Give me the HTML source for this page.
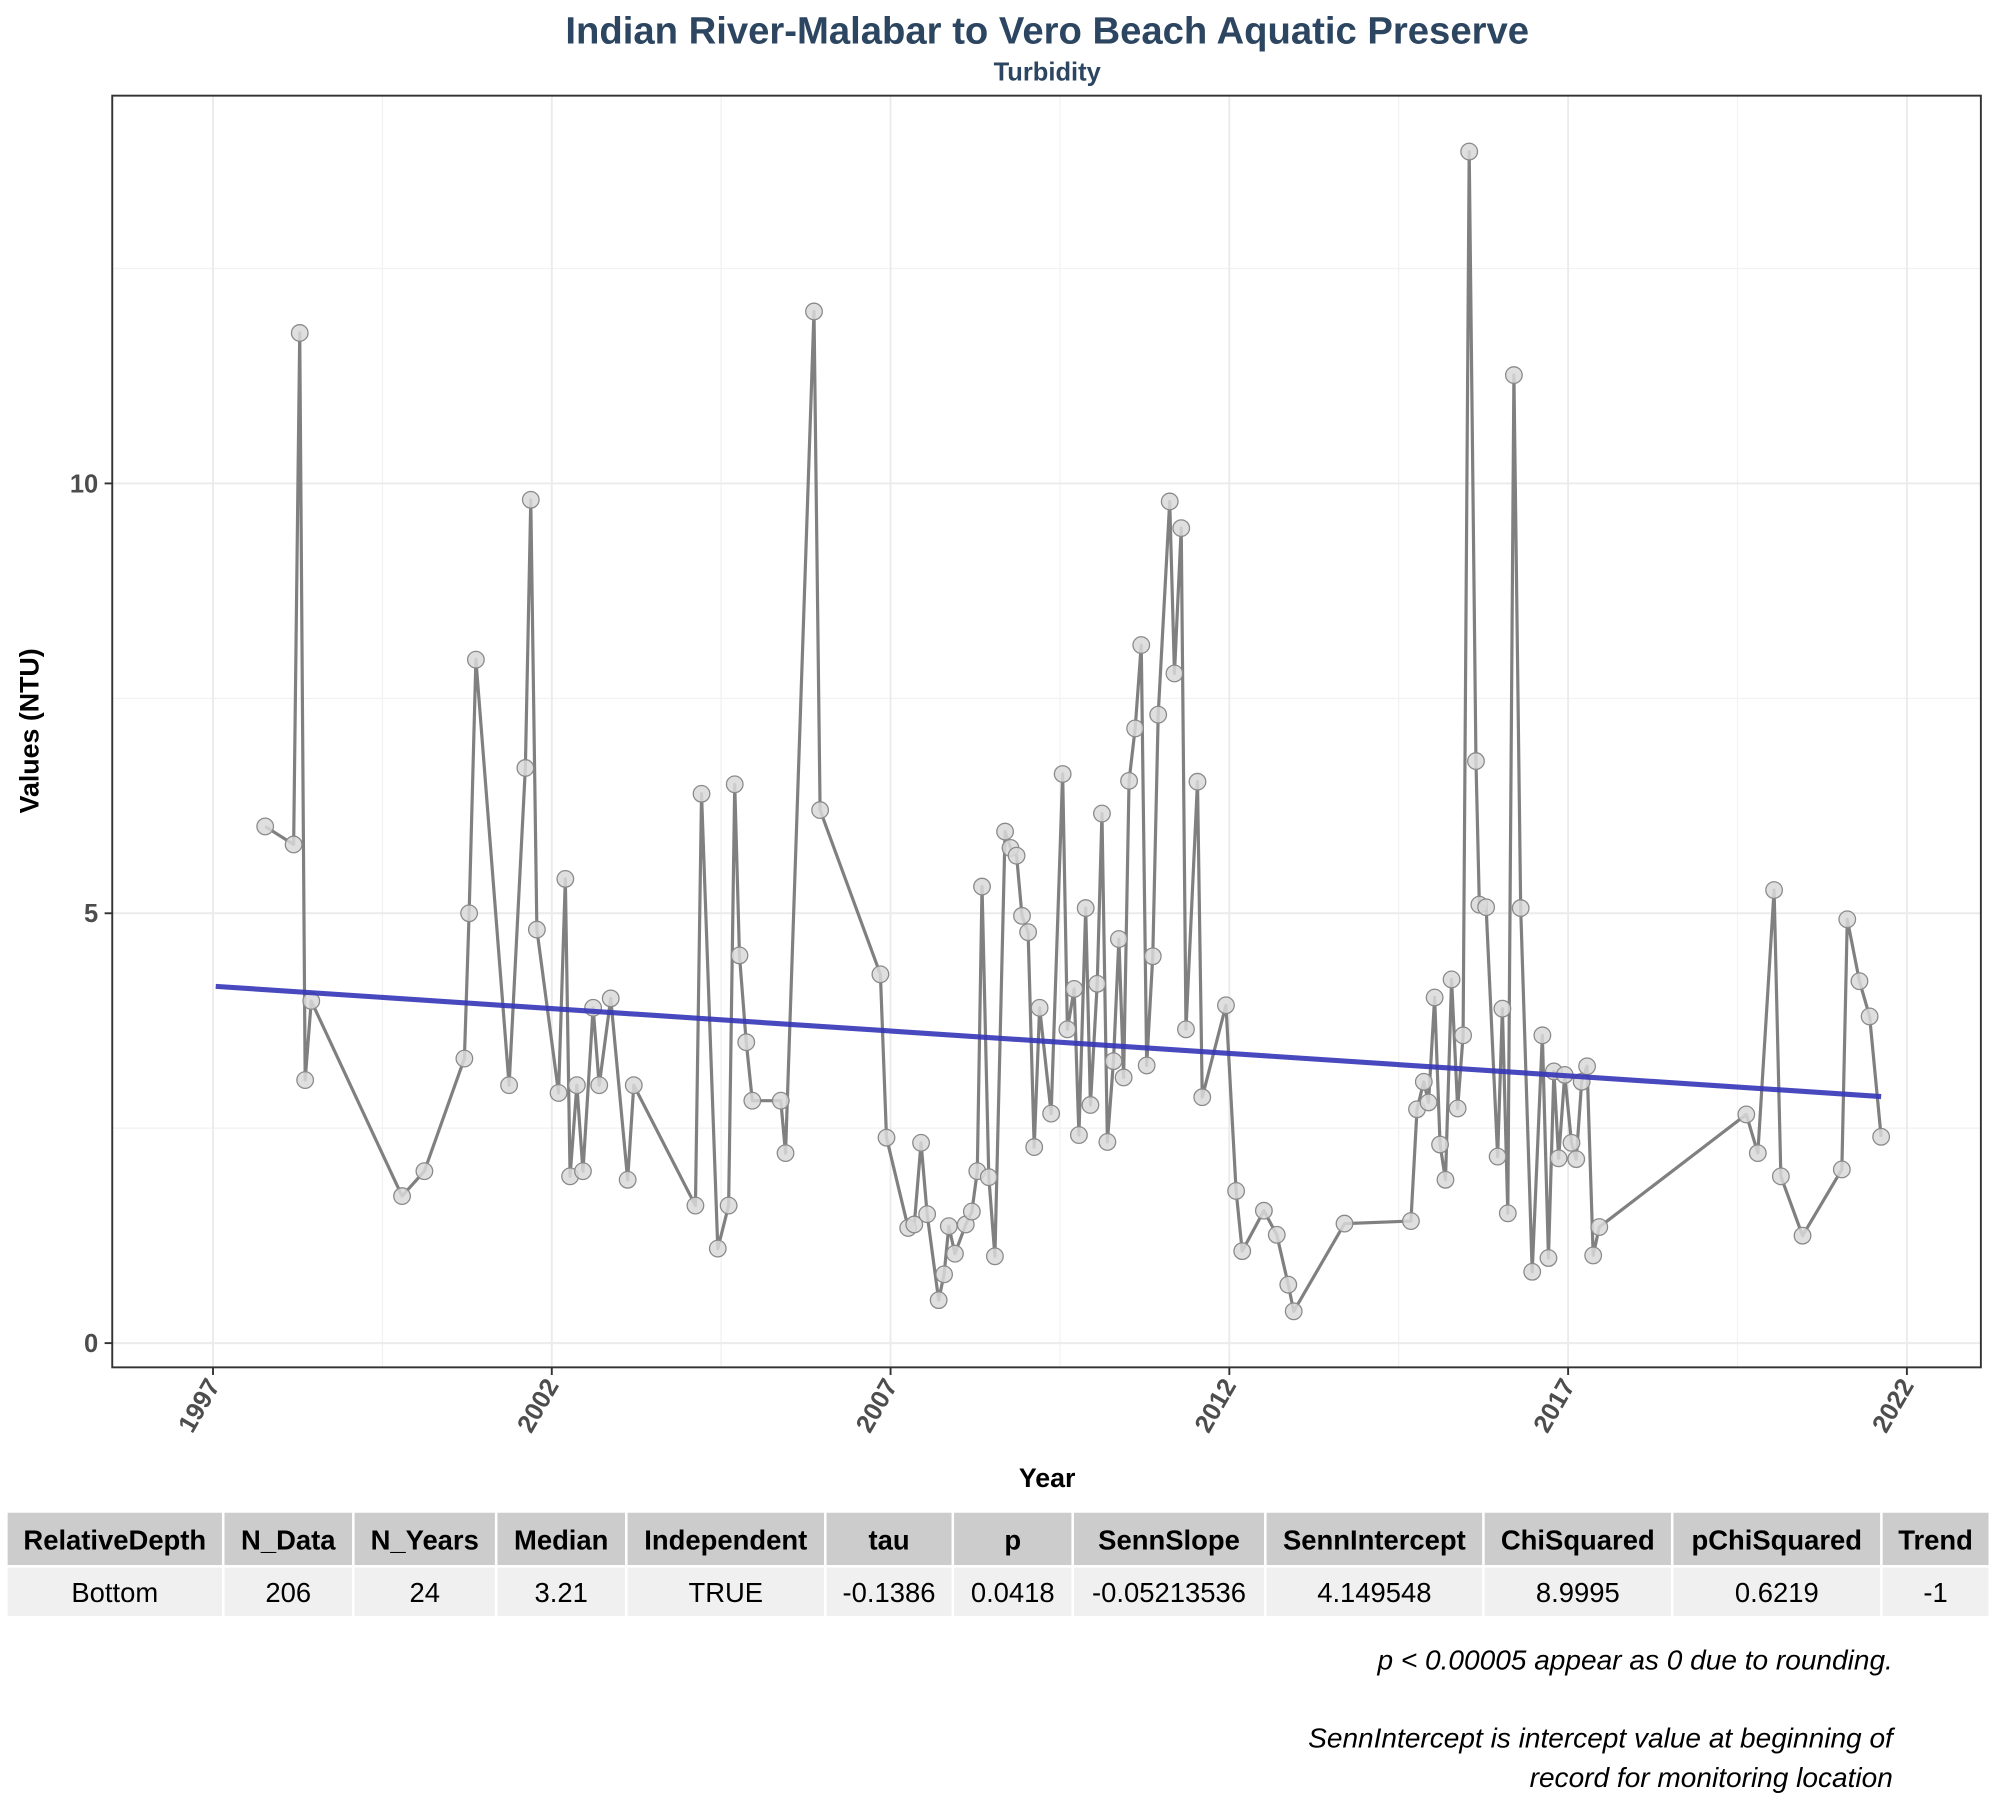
<!DOCTYPE html>
<html><head><meta charset="utf-8"><style>
html,body{margin:0;padding:0;background:#fff;}
svg{display:block;font-family:"Liberation Sans",Arial,sans-serif;}
</style></head><body>
<svg id="chart" width="2000" height="1800" viewBox="0 0 1568 1411.2" xmlns="http://www.w3.org/2000/svg">
<text x="821" y="34" text-anchor="middle" font-size="30" font-weight="bold" fill="#2c4560">Indian River-Malabar to Vero Beach Aquatic Preserve</text>
<text x="821" y="63" text-anchor="middle" font-size="20" font-weight="bold" fill="#2c4560">Turbidity</text>
<rect x="88" y="75" width="1465" height="997" fill="#fff"/>
<g id="grid"></g>
<g id="series"></g>
<g id="points"></g>
<g id="trend"></g>
<rect x="88" y="75" width="1465" height="997" fill="none" stroke="#333" stroke-width="1.5"/>
<g id="axes"></g>
<text transform="translate(30,573) rotate(-90)" text-anchor="middle" font-size="21" font-weight="bold" fill="#000">Values (NTU)</text>
<text x="821" y="1166" text-anchor="middle" font-size="21" font-weight="bold" fill="#000">Year</text>
<g id="table"></g>
<g font-size="22" font-style="italic" fill="#000" text-anchor="end">
<text x="1484" y="1309">p &lt; 0.00005 appear as 0 due to rounding.</text>
<text x="1484" y="1370">SennIntercept is intercept value at beginning of</text>
<text x="1484" y="1401">record for monitoring location</text>
</g>
</svg>
<script>
const years=[1997.77,1998.19,1998.28,1998.36,1998.45,1999.79,2000.12,2000.71,2000.78,2000.88,2001.37,2001.61,2001.69,2001.78,2002.10,2002.20,2002.27,2002.37,2002.46,2002.61,2002.70,2002.87,2003.12,2003.21,2004.12,2004.21,2004.45,2004.61,2004.70,2004.77,2004.87,2004.96,2005.38,2005.45,2005.87,2005.96,2006.85,2006.94,2007.26,2007.35,2007.45,2007.54,2007.71,2007.79,2007.86,2007.95,2008.11,2008.20,2008.28,2008.35,2008.45,2008.54,2008.69,2008.77,2008.86,2008.94,2009.03,2009.12,2009.20,2009.37,2009.54,2009.61,2009.71,2009.78,2009.88,2009.95,2010.05,2010.12,2010.20,2010.29,2010.37,2010.44,2010.52,2010.61,2010.70,2010.78,2010.87,2010.95,2011.12,2011.19,2011.29,2011.36,2011.53,2011.60,2011.95,2012.10,2012.19,2012.51,2012.70,2012.87,2012.95,2013.70,2014.68,2014.77,2014.87,2014.94,2015.03,2015.11,2015.19,2015.28,2015.37,2015.45,2015.54,2015.64,2015.69,2015.79,2015.96,2016.03,2016.11,2016.20,2016.30,2016.47,2016.62,2016.71,2016.79,2016.86,2016.95,2017.05,2017.12,2017.20,2017.28,2017.37,2017.46,2019.63,2019.80,2020.04,2020.14,2020.46,2021.04,2021.12,2021.30,2021.45,2021.62];
const values=[6.01,5.80,11.75,3.06,3.98,1.71,2.00,3.31,5.00,7.95,3.00,6.69,9.81,4.81,2.91,5.40,1.94,3.00,2.00,3.90,3.00,4.01,1.90,3.00,1.60,6.39,1.10,1.60,6.50,4.51,3.50,2.82,2.82,2.21,12.0,6.20,4.29,2.39,1.34,1.38,2.33,1.50,0.50,0.80,1.36,1.04,1.38,1.53,2.00,5.31,1.93,1.01,5.95,5.76,5.67,4.97,4.78,2.28,3.90,2.67,6.62,3.65,4.12,2.42,5.06,2.77,4.18,6.16,2.34,3.28,4.70,3.09,6.54,7.15,8.12,3.23,4.50,7.31,9.79,7.79,9.48,3.65,6.53,2.86,3.93,1.77,1.07,1.54,1.26,0.68,0.37,1.39,1.42,2.72,3.04,2.80,4.02,2.31,1.90,4.23,2.73,3.58,13.86,6.77,5.10,5.07,2.17,3.89,1.51,11.26,5.06,0.83,3.58,0.99,3.16,2.15,3.12,2.33,2.14,3.04,3.22,1.02,1.35,2.66,2.21,5.27,1.94,1.25,2.02,4.93,4.21,3.80,2.40];
const trendYears=[1997.04,2021.62];
const sennSlope=-0.05213536;
const sennIntercept=4.149548;
const yTicks=[0,5,10];
const yMinor=[2.5,7.5,12.5];
const xTicks=[1997,2002,2007,2012,2017,2022];
const xMinor=[1999.5,2004.5,2009.5,2014.5,2019.5];
const tableHeaders=["RelativeDepth","N_Data","N_Years","Median","Independent","tau","p","SennSlope","SennIntercept","ChiSquared","pChiSquared","Trend"];
const tableRow=["Bottom","206","24","3.21","TRUE","-0.1386","0.0418","-0.05213536","4.149548","8.9995","0.6219","-1"];

const NS="http://www.w3.org/2000/svg";
const X=y=>167+(y-1997)*53.12;
const Y=v=>1053-v*67.4;
function mk(tag,attrs,parent){const e=document.createElementNS(NS,tag);for(const k in attrs)e.setAttribute(k,attrs[k]);parent.appendChild(e);return e;}
const grid=document.getElementById('grid');
yMinor.forEach(v=>{const l=mk('line',{x1:88,x2:1553,y1:Y(v),y2:Y(v),stroke:'#f2f2f2','stroke-width':1},grid);

});
xMinor.forEach(v=>{const l=mk('line',{x1:X(v),x2:X(v),y1:75,y2:1072,stroke:'#f2f2f2','stroke-width':1},grid);

});
yTicks.forEach(v=>{const l=mk('line',{x1:88,x2:1553,y1:Y(v),y2:Y(v),stroke:'#ebebeb','stroke-width':1.5},grid);

});
xTicks.forEach(v=>{const l=mk('line',{x1:X(v),x2:X(v),y1:75,y2:1072,stroke:'#ebebeb','stroke-width':1.5},grid);

});
const ser=document.getElementById('series');
const pl=mk('polyline',{points:years.map((y,i)=>X(y)+','+Y(values[i])).join(' '),fill:'none',stroke:'#808080','stroke-width':2.5,'stroke-linejoin':'round'},ser);


const pts=document.getElementById('points');
years.forEach((y,i)=>{const c=mk('circle',{cx:X(y),cy:Y(values[i]),r:6.5,fill:'#d9d9d9',stroke:'#8a8a8a','stroke-width':1,'fill-opacity':0.85},pts);

});
const tr=document.getElementById('trend');
const tv=trendYears.map(y=>sennIntercept+sennSlope*(y-trendYears[0]));
const tl=mk('line',{x1:X(trendYears[0]),y1:Y(tv[0]),x2:X(trendYears[1]),y2:Y(tv[1]),stroke:'#3535b8','stroke-width':4,'stroke-opacity':0.9},tr);


const ax=document.getElementById('axes');
yTicks.forEach(v=>{const t=mk('line',{x1:82,x2:88,y1:Y(v),y2:Y(v),stroke:'#333','stroke-width':1.5},ax);


const tx=mk('text',{x:77,y:Y(v)+7,'text-anchor':'end','font-size':20,'font-weight':'bold',fill:'#4d4d4d'},ax);
tx.textContent=v;

});
xTicks.forEach(v=>{const t=mk('line',{x1:X(v),x2:X(v),y1:1072,y2:1078,stroke:'#333','stroke-width':1.5},ax);


const tx=mk('text',{transform:`translate(${X(v)+6},${1086}) rotate(-60)`,'text-anchor':'end','font-size':20,'font-weight':'bold',fill:'#4d4d4d'},ax);
tx.textContent=v;

});
const tb=document.getElementById('table');
const bounds=[6,176,278,390,492,648,748,842,993,1164,1312,1476,1561];
tableHeaders.forEach((h,i)=>{const x0=bounds[i],x1=bounds[i+1];
const r=mk('rect',{x:x0,y:1186,width:x1-x0-2,height:41,fill:'#cccccc'},tb);


const t=mk('text',{x:(x0+x1)/2-1,y:1215,'text-anchor':'middle','font-size':21.5,'font-weight':'bold',fill:'#000'},tb);
t.textContent=h;


const r2=mk('rect',{x:x0,y:1229,width:x1-x0-2,height:38,fill:'#f0f0f0'},tb);


const t2=mk('text',{x:(x0+x1)/2-1,y:1256,'text-anchor':'middle','font-size':21.5,fill:'#000'},tb);
t2.textContent=tableRow[i];

});
</script>
</body></html>
